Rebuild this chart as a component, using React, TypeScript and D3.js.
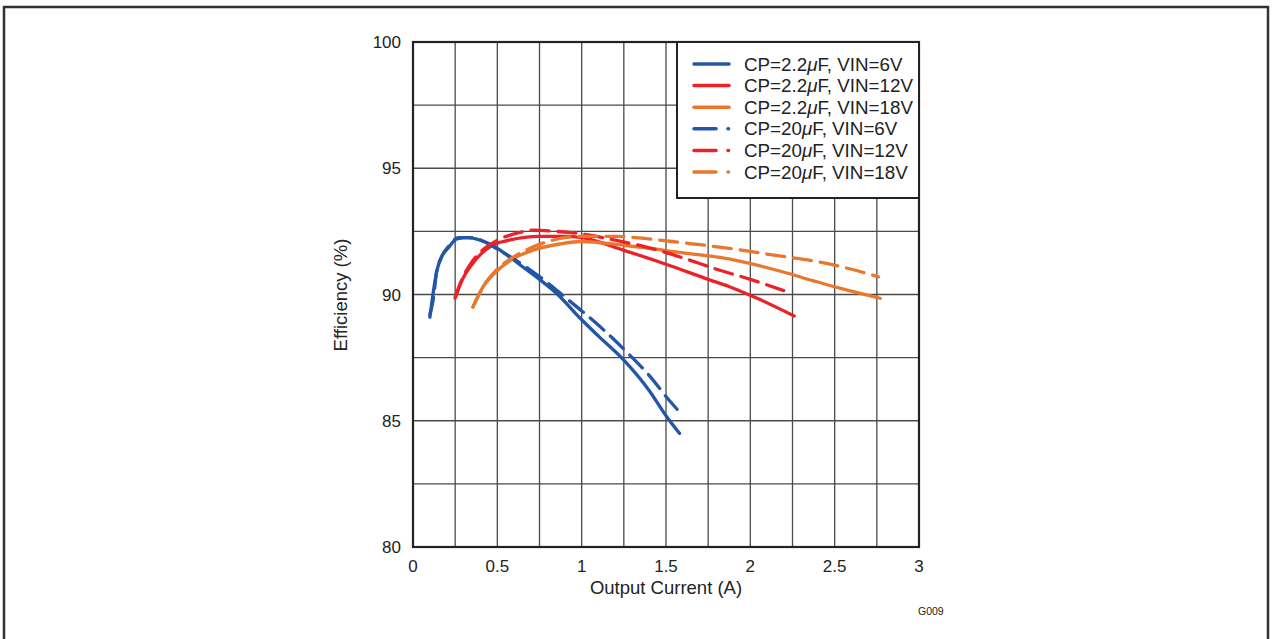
import React from "react";
import * as d3 from "d3";

type Pt = [number, number];

const xTicks = [0, 0.5, 1, 1.5, 2, 2.5, 3];
const yTicks = [80, 85, 90, 95, 100];
const xGrid = [0.25, 0.5, 0.75, 1, 1.25, 1.5, 1.75, 2, 2.25, 2.5, 2.75];
const yGrid = [82.5, 85, 87.5, 90, 92.5, 95, 97.5];

const blue22: Pt[] = [[0.10,89.1],[0.11,89.6],[0.14,90.9],[0.17,91.5],[0.21,91.85],[0.26,92.2],[0.32,92.25],[0.40,92.15],[0.47,91.95],[0.55,91.6],[0.65,91.1],[0.75,90.6],[0.85,90.05],[1.0,89.0],[1.1,88.35],[1.25,87.4],[1.4,86.2],[1.5,85.2],[1.58,84.5]];
const blue20: Pt[] = [[0.10,89.2],[0.12,89.8],[0.14,90.9],[0.17,91.5],[0.21,91.9],[0.27,92.25],[0.35,92.25],[0.42,92.1],[0.5,91.8],[0.6,91.4],[0.7,90.95],[0.8,90.45],[0.9,89.9],[1.0,89.35],[1.13,88.6],[1.27,87.7],[1.4,86.8],[1.52,85.8],[1.58,85.35]];
const red22: Pt[] = [[0.25,89.85],[0.29,90.55],[0.35,91.2],[0.41,91.65],[0.47,91.95],[0.57,92.15],[0.75,92.3],[0.9,92.3],[1.0,92.25],[1.25,91.75],[1.5,91.2],[1.75,90.6],[1.88,90.3],[2.04,89.85],[2.26,89.15]];
const red20: Pt[] = [[0.25,89.9],[0.29,90.6],[0.35,91.3],[0.42,91.8],[0.5,92.15],[0.6,92.4],[0.72,92.55],[0.85,92.5],[1.0,92.4],[1.2,92.15],[1.4,91.85],[1.6,91.45],[1.8,91.0],[2.0,90.6],[2.22,90.1]];
const orange22: Pt[] = [[0.355,89.5],[0.415,90.3],[0.5,90.95],[0.59,91.4],[0.71,91.75],[0.87,92.0],[1.0,92.1],[1.25,91.95],[1.6,91.65],[1.88,91.4],[2.19,90.9],[2.37,90.55],[2.53,90.25],[2.77,89.85]];
const orange20: Pt[] = [[0.355,89.5],[0.42,90.35],[0.5,91.0],[0.6,91.5],[0.7,91.85],[0.8,92.1],[0.9,92.25],[1.0,92.3],[1.2,92.3],[1.4,92.2],[1.6,92.05],[1.85,91.85],[2.15,91.55],[2.4,91.3],[2.6,91.0],[2.76,90.7]];

const BLUE = "#2356a6";
const RED = "#ec2229";
const ORANGE = "#e9772c";

const series = [
  { label: "2.2", vin: "6V", data: blue22, color: BLUE, dashed: false },
  { label: "2.2", vin: "12V", data: red22, color: RED, dashed: false },
  { label: "2.2", vin: "18V", data: orange22, color: ORANGE, dashed: false },
  { label: "20", vin: "6V", data: blue20, color: BLUE, dashed: true },
  { label: "20", vin: "12V", data: red20, color: RED, dashed: true },
  { label: "20", vin: "18V", data: orange20, color: ORANGE, dashed: true },
];

const FONT = "'Liberation Sans', Arial, Helvetica, sans-serif";

export default function App() {
  const L = 413, R = 919, T = 42, B = 547;
  const x = d3.scaleLinear().domain([0, 3]).range([L, R]);
  const y = d3.scaleLinear().domain([80, 100]).range([B, T]);
  const line = d3.line<Pt>().x(d => x(d[0])).y(d => y(d[1])).curve(d3.curveMonotoneX);

  const legX = 677, legY = 42, legW = 242, legH = 156;
  const rowY = (i: number) => 64 + i * 21.6;

  return (
    <svg width={1272} height={639} style={{ position: "absolute", left: 0, top: 0, background: "#fff" }}>
      <rect x={4} y={7} width={1264} height={650} fill="none" stroke="#333" strokeWidth={2.5} />
      {xGrid.map(v => (
        <line key={"xg" + v} x1={x(v)} x2={x(v)} y1={T} y2={B} stroke="#4a4a4a" strokeWidth={1.3} />
      ))}
      {yGrid.map(v => (
        <line key={"yg" + v} x1={L} x2={R} y1={y(v)} y2={y(v)} stroke="#4a4a4a" strokeWidth={1.3} />
      ))}
      {series.map((s, i) => (
        <path key={"s" + i} d={line(s.data) || ""} fill="none" stroke={s.color} strokeWidth={3.3}
          strokeLinecap="round" strokeLinejoin="round" strokeDasharray={s.dashed ? "18,9" : undefined} />
      ))}
      <rect x={L} y={T} width={R - L} height={B - T} fill="none" stroke="#222" strokeWidth={2.2} />
      {xTicks.map(v => (
        <text key={"xt" + v} x={x(v)} y={572} textAnchor="middle" fontFamily={FONT} fontSize={17} fill="#222">{v}</text>
      ))}
      {yTicks.map(v => (
        <text key={"yt" + v} x={401} y={y(v) + 6} textAnchor="end" fontFamily={FONT} fontSize={17} fill="#222">{v}</text>
      ))}
      <text x={666} y={594} textAnchor="middle" fontFamily={FONT} fontSize={18.5} fill="#222">Output Current (A)</text>
      <text transform={`translate(347,295) rotate(-90)`} textAnchor="middle" fontFamily={FONT} fontSize={18.5} fill="#222">Efficiency (%)</text>
      <text x={918} y={615} fontFamily={FONT} fontSize={10.5} fill="#222">G009</text>
      <rect x={legX} y={legY} width={legW} height={legH} fill="#fff" stroke="#222" strokeWidth={2} />
      {series.map((s, i) => (
        <g key={"lg" + i}>
          {s.dashed ? (
            <>
              <line x1={694} x2={716} y1={rowY(i)} y2={rowY(i)} stroke={s.color} strokeWidth={3.5} strokeLinecap="round" />
              <line x1={728} x2={728.5} y1={rowY(i)} y2={rowY(i)} stroke={s.color} strokeWidth={3.5} strokeLinecap="round" />
            </>
          ) : (
            <line x1={694} x2={729} y1={rowY(i)} y2={rowY(i)} stroke={s.color} strokeWidth={3.5} strokeLinecap="round" />
          )}
          <text x={744} y={rowY(i) + 6.5} fontFamily={FONT} fontSize={18.8} fill="#222">
            {`CP=${s.label}`}<tspan fontStyle="italic">μ</tspan>{`F, VIN=${s.vin}`}
          </text>
        </g>
      ))}
    </svg>
  );
}
